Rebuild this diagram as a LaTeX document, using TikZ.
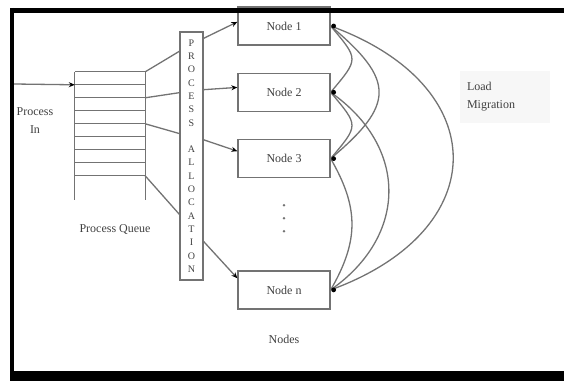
\documentclass[tikz,border=0pt]{standalone}
\usepackage{fontspec}
\setmainfont{Liberation Serif}
\usetikzlibrary{arrows.meta,positioning,calc}

\begin{document}
\begin{tikzpicture}[
            x=1pt, y=1pt,
            node distance=27pt,
            wire/.style={draw=black!55, line width=1.3pt},
            nodebox/.style={rectangle, draw=black!55, line width=1.3pt, fill=white, minimum width=92pt, minimum height=38pt, font=\fontsize{12}{14}\selectfont, text=black!75},
            allocbox/.style={rectangle, draw=black!55, line width=1.3pt, minimum width=23pt, minimum height=248pt, inner sep=2pt, align=center, font=\fontsize{10}{13.3}\selectfont, text=black!75},
            txt/.style={font=\fontsize{12}{18}\selectfont, text=black!75},
            arrow/.style={wire, -{Stealth[length=6pt, width=5pt, color=black]}},
            mig/.style={wire}
        ]
            \useasboundingbox (0,0) rectangle (564,-382);

            % Queue
            \node[minimum width=70pt, minimum height=128pt, inner sep=0pt] (queue) at (110,-136) {};
            \foreach \i in {0,...,8}
                \draw[wire] ($(queue.north west)+(0,-13*\i)$) coordinate (p\i) -- ($(queue.north east)+(0,-13*\i)$) coordinate (q\i);
            \draw[wire] (queue.north west) -- (queue.south west);
            \draw[wire] (queue.north east) -- (queue.south east);
            \node[txt, align=center] (pin) at (35,-121) {Process\\In};
            \node[txt] (qlabel) at (115,-229) {Process Queue};

            % Allocation
            \node[allocbox] (alloc) at (191.5,-156) {P\\R\\O\\C\\E\\S\\S\\[13.3pt]A\\L\\L\\O\\C\\A\\T\\I\\O\\N};

            % Nodes
            \node[nodebox] (n1) at (284,-26) {Node 1};
            \node[nodebox, below=of n1] (n2) {Node 2};
            \node[nodebox, below=of n2] (n3) {Node 3};
            \node[nodebox, below=92pt of n3] (nn) {Node n};
            \node[txt, below=22pt of nn] (nodes) {Nodes};
            \coordinate[below=40pt of n3.south] (dots);
            \foreach \d in {-1,0,1}
                \fill[black!55] ([yshift=-13*\d pt]dots) circle (1.3pt);

            \node[txt, fill=black!3, minimum width=90pt, minimum height=52pt, text width=76pt, align=left] (lm) at (505,-97) {Load\\Migration};

            % Arrows
            \coordinate (src) at (14,-84);
            \draw[arrow] (src) -- (p1);
            \draw[wire] (q0) -- ($(alloc.north west)!0.08!(alloc.south west)$);
            \draw[wire] (q2) -- ($(alloc.north west)!0.246!(alloc.south west)$);
            \draw[wire] (q4) -- ($(alloc.north west)!0.41!(alloc.south west)$);
            \draw[wire] (q8) -- ($(alloc.north west)!0.734!(alloc.south west)$);
            \foreach \f/\n/\a in {0.028/n1/175, 0.234/n2/174, 0.435/n3/171, 0.843/nn/166}
                \draw[arrow] ($(alloc.north east)!\f!(alloc.south east)$) -- (\n.\a);

            % Migration
            \draw[mig] (n1.east) to[out=-50, in=50, looseness=1.71] (n2.east);
            \draw[mig] (n2.east) to[out=-50, in=50, looseness=1.71] (n3.east);
            \draw[mig] (n1.east) to[out=-40, in=40, looseness=1.63] (n3.east);
            \draw[mig] (n3.east) to[out=-60, in=60, looseness=1.11] (nn.east);
            \draw[mig] (n2.east) to[out=-35, in=35, looseness=1.23] (nn.east);
            \draw[mig] (n1.east) to[out=-20, in=20, looseness=1.69] (nn.east);
            \foreach \n in {n1,n2,n3,nn}
                \fill ([xshift=3pt]\n.east) circle (2.4pt);

            % Frame
            \draw[line width=5pt] (10,-10.5) -- (564,-10.5);
            \draw[line width=4pt] (12,-8) -- (12,-381);
            \draw[line width=10pt] (10,-376) -- (564,-376);
        \end{tikzpicture}
\end{document}
